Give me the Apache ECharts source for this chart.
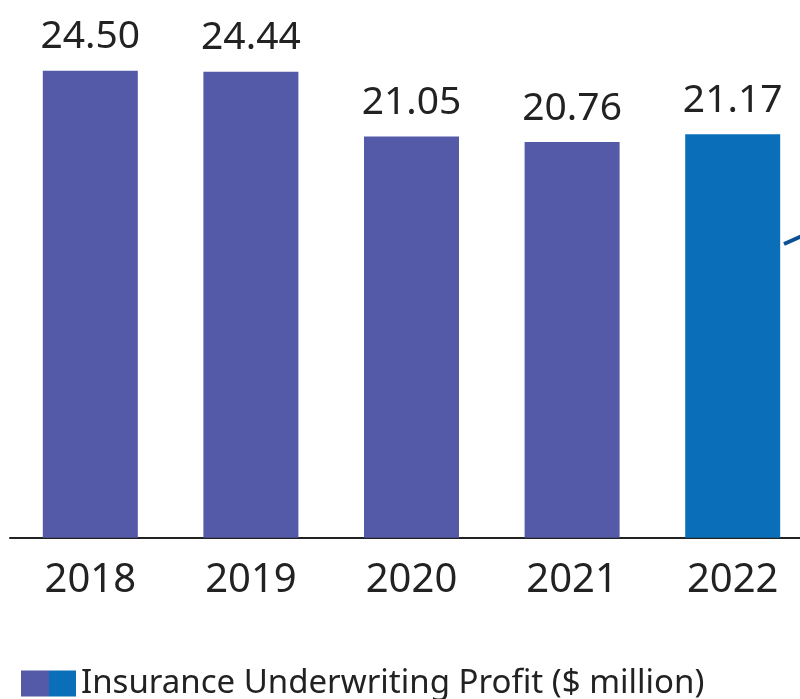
<!DOCTYPE html>
<html><head><meta charset="utf-8">
<script src="https://cdn.jsdelivr.net/npm/echarts@6/dist/echarts.min.js"></script>
<style>html,body{margin:0;padding:0;background:#fff;}#c{width:800px;height:699px;}</style>
</head><body><div id="c"></div>
<script>
const years = ['2018', '2019', '2020', '2021', '2022'];
const profit = [24.50, 24.44, 21.05, 20.76, 21.17];
const seriesName = 'Insurance Underwriting Profit ($ million)';
const purple = '#5459A8';
const blue = '#0A6FB8';

const chart = echarts.init(document.getElementById('c'));
chart.setOption({
  backgroundColor: '#fff',
  animation: false,
  grid: { left: 10, width: 803, top: 4, bottom: 161.3, containLabel: false, outerBoundsMode: 'none' },
  xAxis: {
    type: 'category', data: years,
    axisLine: { lineStyle: { color: '#222', width: 2 } },
    axisTick: { show: false },
    axisLabel: { color: '#222', fontSize: 40, fontFamily: 'Noto Sans', margin: 23 }
  },
  yAxis: { type: 'value', min: 0, max: 28, show: false, splitLine: { show: false } },
  legend: {
    left: 16, top: 662, itemWidth: 55, itemHeight: 26, itemGap: 10,
    icon: 'rect',
    textStyle: { color: '#222', fontSize: 33, fontFamily: 'Noto Sans', padding: [0, 0, 0, 0] },
    data: [{ name: seriesName, itemStyle: { color: new echarts.graphic.LinearGradient(0, 0, 1, 0, [
      { offset: 0, color: purple }, { offset: 0.5, color: purple },
      { offset: 0.5, color: blue }, { offset: 1, color: blue }]) } }]
  },
  series: [{
    name: seriesName, type: 'bar', barWidth: 95,
    data: profit.map((v, i) => ({ value: v, itemStyle: { color: i === profit.length - 1 ? blue : purple } })),
    itemStyle: { color: purple },
    label: {
      show: true, position: 'top', distance: 14, color: '#222', fontSize: 39, fontFamily: 'Noto Sans',
      formatter: p => p.value.toFixed(2)
    }
  }],
  graphic: [{
    type: 'line', shape: { x1: 784, y1: 244, x2: 802, y2: 236 },
    style: { stroke: '#0B4F94', lineWidth: 4 }
  }]
});
</script></body></html>
